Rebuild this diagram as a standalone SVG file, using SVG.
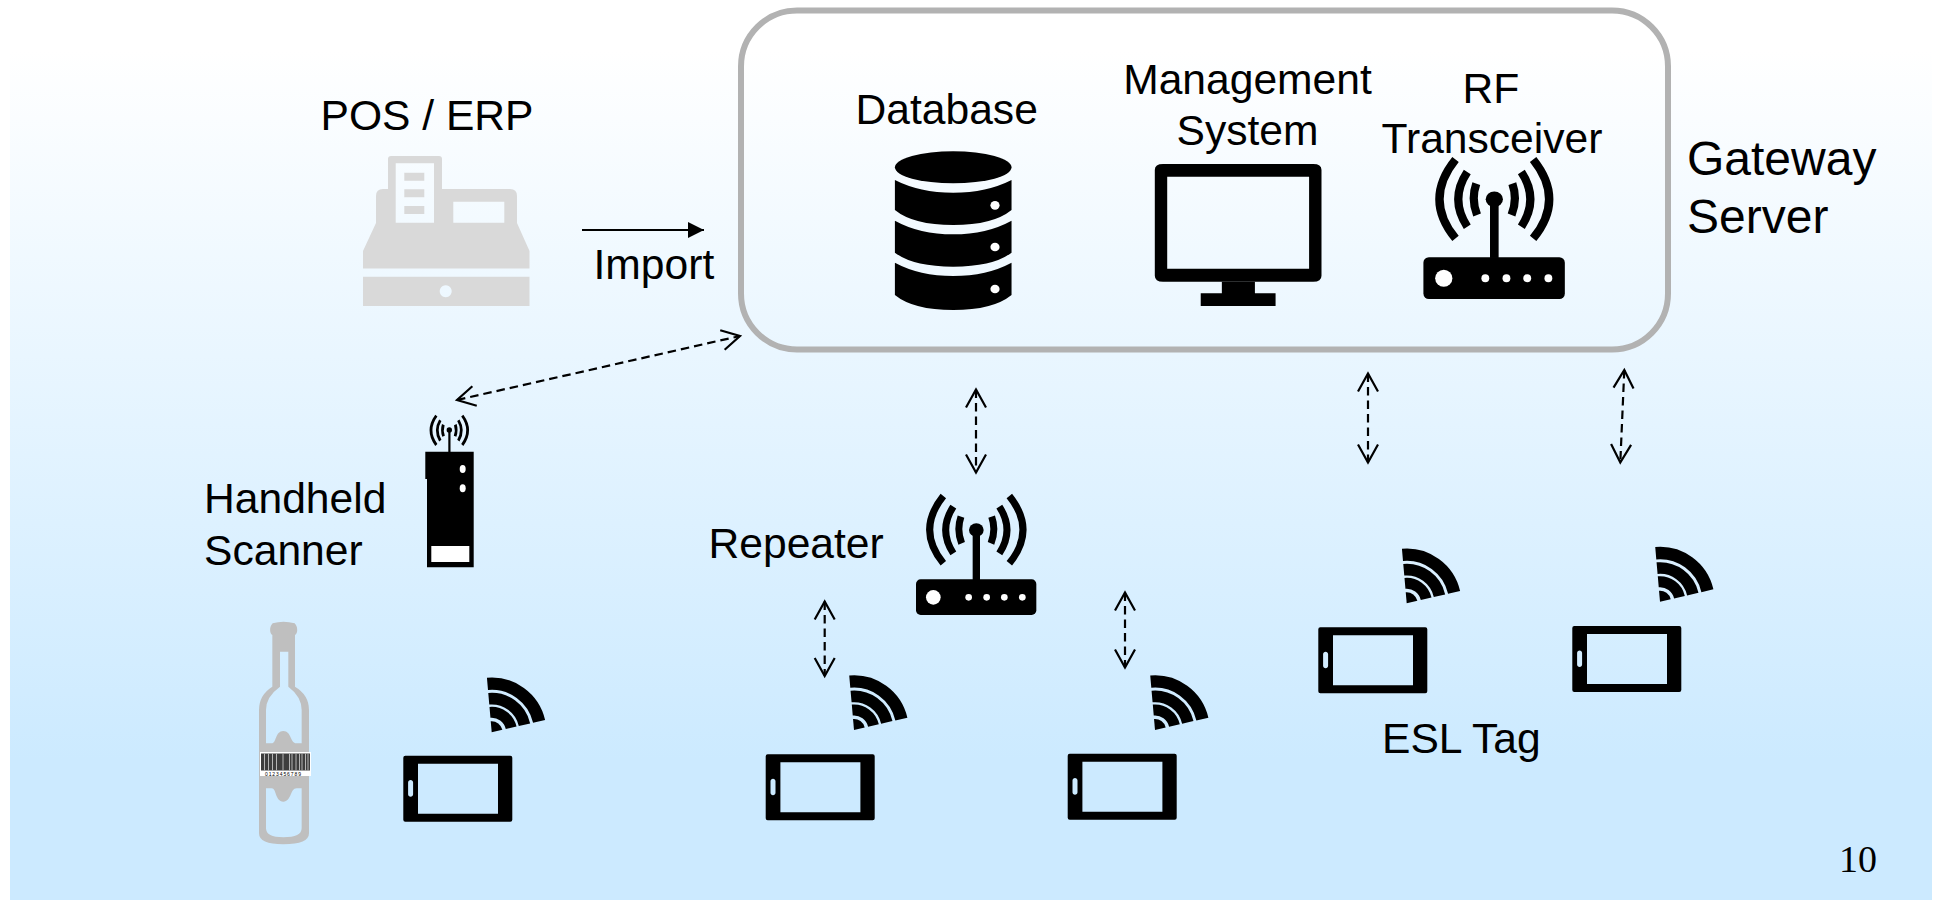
<svg xmlns="http://www.w3.org/2000/svg" width="1934" height="901" viewBox="0 0 1934 901">
<style>
text{font-family:"Liberation Sans",Arial,sans-serif;font-size:42.6px;fill:#000}
.big{font-size:48px}
.num{font-family:"Liberation Serif","Times New Roman",serif;font-size:38px}
.m{text-anchor:middle}
.dash{fill:none;stroke:#000;stroke-width:2.2;stroke-dasharray:8.500 5;marker-start:url(#open);marker-end:url(#open)}
.arc{fill:none;stroke:#000}
</style>
<defs>
<linearGradient id="bg" gradientUnits="userSpaceOnUse" x1="0" y1="50" x2="0" y2="760">
<stop offset="0" stop-color="#fff"/><stop offset="1" stop-color="#cceaff"/>
</linearGradient>
<marker id="open" markerUnits="userSpaceOnUse" markerWidth="24" markerHeight="28" refX="20" refY="12" orient="auto-start-reverse" overflow="visible">
<path d="M2 2L20 12L2 22" fill="none" stroke="#000" stroke-width="2.200"/>
</marker>
<marker id="solid" markerUnits="userSpaceOnUse" markerWidth="18" markerHeight="16" refX="16" refY="8" orient="auto">
<path d="M0 0L16 8L0 16Z" fill="#000"/>
</marker>
<g id="waves">
<path class="arc" stroke-width="21" d="M135 65Q121 105 137 145M227 65Q241 105 225 145M112 35Q66 105 112 175M250 35Q296 105 250 175M82 3Q0 105 82 205M280 3Q362 105 280 205"/>
</g>
<g id="router">
<use href="#waves"/>
<rect x="170" y="105" width="22" height="150"/>
<ellipse cx="181" cy="105" rx="22" ry="20"/>
<rect x="0" y="253" width="361" height="107" rx="14"/>
<g fill="#fff"><circle cx="52" cy="307" r="22"/><circle cx="158" cy="307" r="10"/><circle cx="212" cy="307" r="10"/><circle cx="265" cy="307" r="10"/><circle cx="319" cy="307" r="10"/></g>
</g>
<g id="phone">
<path fill-rule="evenodd" d="M2 0H107Q109 0 109 2V64Q109 66 107 66H2Q0 66 0 64V2Q0 0 2 0ZM14.700 8V58H94.700V8ZM7.300 24.400c-1.400 0-2.500 1-2.500 2.500V38.500c0 1.500 1.100 2.500 2.500 2.500s2.500-1 2.500-2.500V26.900c0-1.500-1.100-2.500-2.500-2.500Z"/>
</g>
<g id="wifi" transform="scale(.3333)">
<path d="M0 0L32.100 -7.400A33 33 0 0 0 -2.900 -32.900Z"/>
<path class="arc" stroke-width="33" d="M58.400 -13.500A60 60 0 0 0 -5.200 -59.800"/>
<path class="arc" stroke-width="35" d="M98.400 -22.700A101 101 0 0 0 -8.800 -100.600"/>
<path class="arc" stroke-width="37" d="M142.200 -32.900A146 146 0 0 0 -12.700 -145.400"/>
</g>
</defs>
<rect id="background" x="10" y="0" width="1922" height="900" fill="url(#bg)"/>

<g id="connectors">
<line x1="582" y1="230" x2="704" y2="230" stroke="#000" stroke-width="2" marker-end="url(#solid)"/>
<line class="dash" x1="457" y1="400" x2="740" y2="336"/>
<line class="dash" x1="976" y1="389.500" x2="976" y2="472.500"/>
<line class="dash" x1="824.700" y1="601.500" x2="824.700" y2="676"/>
<line class="dash" x1="1125" y1="592.500" x2="1125" y2="667.500"/>
<line class="dash" x1="1368" y1="373.500" x2="1368" y2="462.500"/>
<line class="dash" x1="1624.300" y1="370" x2="1620.300" y2="462.500"/>
</g>

<g id="pos-erp">
<text x="320.500" y="129.500">POS / ERP</text>
<path fill="#d9d9d9" fill-rule="evenodd" d="M388 159Q388 156 391 156H439Q442 156 442 159V189H510Q517 189 517 196V223L529.500 251V268.500H363V251L376 223V196Q376 189 383 189H388ZM395.700 163.300V222.700H434V163.300ZM404.300 172.700H424.300V180.700H404.300ZM404.300 189.300H424.300V197.300H404.300ZM404.300 206H424.300V214H404.300ZM453.300 201.700V222.700H504.300V201.700Z"/>
<path fill="#d9d9d9" fill-rule="evenodd" d="M363 276.700H529.500V306H363ZM445.700 285.300a6 6 0 1 0 .01 0Z"/>
</g>
<text id="import-label" x="593.500" y="279">Import</text>

<g id="gateway-server">
<rect x="741" y="10.500" width="927" height="339" rx="56" ry="56" fill="none" stroke="#b2b2b2" stroke-width="6"/>
<text class="big" x="1687" y="175">Gateway</text>
<text class="big" x="1687" y="233">Server</text>
</g>

<g id="database">
<text x="855.500" y="123.500">Database</text>
<g transform="translate(860 130) scale(.4592 .3333)">
<ellipse cx="203" cy="112" rx="127" ry="48"/>
<path d="M76 150Q130 188 203 188T330 150V240Q290 285 203 285T76 240Z"/>
<path d="M76 272Q130 313 203 313T330 272V368Q290 410 203 410T76 368Z"/>
<path d="M76 398Q130 438 203 438T330 398V495Q290 540 203 540T76 495Z"/>
<g fill="#fff"><ellipse cx="294" cy="226" rx="10" ry="13"/><ellipse cx="294" cy="351" rx="10" ry="13"/><ellipse cx="294" cy="477" rx="10" ry="13"/></g>
</g>
</g>

<g id="management-system">
<text class="m" x="1247.500" y="94">Management</text>
<text class="m" x="1247.500" y="145">System</text>
<g transform="translate(860 130) scale(.4592 .3333)">
<path fill-rule="evenodd" d="M660 102H987Q1005 102 1005 120V437Q1005 455 987 455H660Q642 455 642 437V120Q642 102 660 102ZM669 140V416H978V140Z"/>
<path d="M788 455H860V490H905V528H742V490H788Z"/>
</g>
</g>

<g id="rf-transceiver">
<text class="m" x="1491" y="103">RF</text>
<text class="m" x="1492" y="153">Transceiver</text>
<use href="#router" transform="translate(1423.400 158.300) scale(.3918 .3908)"/>
</g>

<g id="handheld-scanner">
<text x="204" y="513">Handheld</text>
<text x="204" y="564.500">Scanner</text>
<use href="#waves" transform="translate(425.600 415.200) scale(.131 .145)"/>
<rect x="448.300" y="430" width="2.200" height="22"/>
<circle cx="449.300" cy="430" r="2.700"/>
<path d="M425.300 451.700H473.700V567.300H427V479H425.300Z"/>
<g fill="#fff"><ellipse cx="462.700" cy="469" rx="3" ry="4"/><ellipse cx="462.700" cy="488.300" rx="3" ry="4"/><rect x="431.300" y="546" width="38" height="16"/></g>
</g>

<g id="bottle">
<path fill="#bfbfbf" fill-rule="evenodd" transform="translate(230 400) scale(.3333)" d="M127 705C118 700 118 680 128 670Q160 660 194 670C204 680 204 700 195 705V860Q237 885 237 930V1300Q237 1333 160 1333Q87 1333 87 1300V930Q87 885 127 860ZM150 755V860Q108 890 108 930V1030H125C140 1030 135 993 160 993C185 993 180 1030 200 1030H215V930Q215 890 175 860V755ZM108 1165V1285Q108 1312 160 1312Q215 1312 215 1285V1165H200C180 1165 185 1205 160 1205C135 1205 140 1165 125 1165Z"/>
<g id="barcode">
<rect x="260" y="752" width="51" height="24" fill="#fff"/>
<rect x="261" y="753.500" width="49" height="17" fill="#3d3d3d"/>
<path stroke="#b5b5b5" stroke-width="1" fill="none" d="M264.500 753.500V770.500M268.500 753.500V770.500M272.500 753.500V770.500M276.500 753.500V770.500M283 753.500V770.500M289.500 753.500V770.500M292 753.500V770.500M296 753.500V770.500M299.500 753.500V770.500M302 753.500V770.500M305.500 753.500V770.500M308 753.500V770.500"/>
<text x="265" y="775.800" style="font-size:5px;letter-spacing:.9px">0123456789</text>
</g>
</g>

<g id="esl-tag-1"><use href="#phone" x="403.300" y="755.700"/><use href="#wifi" transform="translate(491.700 732.300)"/></g>
<g id="esl-tag-2"><use href="#phone" x="765.700" y="754.300"/><use href="#wifi" transform="translate(854 730)"/></g>
<g id="esl-tag-3"><use href="#phone" x="1067.700" y="753.700"/><use href="#wifi" transform="translate(1155 730)"/></g>
<g id="esl-tag-4"><use href="#phone" x="1318.300" y="627.300"/><use href="#wifi" transform="translate(1406.700 603.300)"/></g>
<g id="esl-tag-5"><use href="#phone" x="1572.300" y="626"/><use href="#wifi" transform="translate(1660 601.700)"/></g>
<text id="esl-tag-label" x="1382" y="753.300">ESL Tag</text>

<g id="repeater">
<text x="708.500" y="557.700">Repeater</text>
<use href="#router" transform="translate(916 495) scale(.3333)"/>
</g>

<text id="page-number" class="num" x="1839" y="872.300">10</text>
</svg>
